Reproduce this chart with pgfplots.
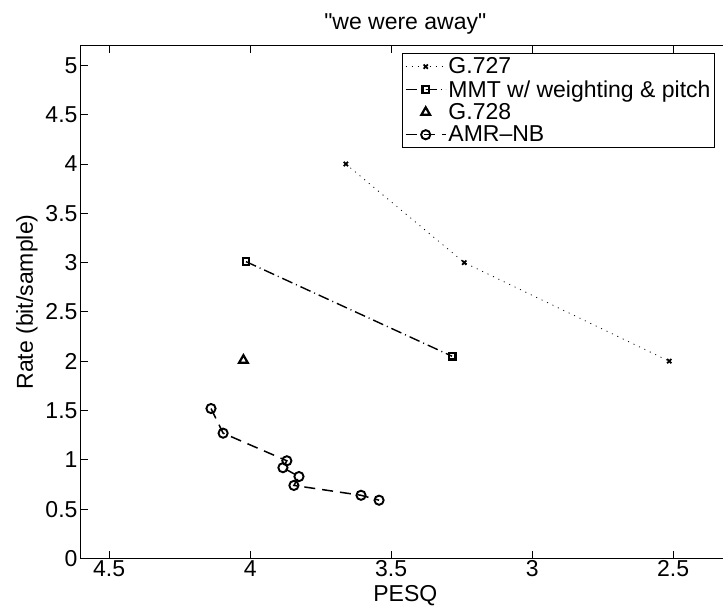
\documentclass[border=0pt]{standalone}
\usepackage{fontspec}
\setmainfont{Liberation Sans}
\newfontfamily\qfont{Liberation Sans}
\usepackage{pgfplots}
\pgfplotsset{compat=1.18}
\newcommand{\mfont}{\fontsize{23}{27}\selectfont}
\begin{document}
\begin{tikzpicture}
\begin{axis}[
    scale only axis,
    width=648.6pt, height=512.7pt,
    x dir=reverse,
    xmin=2.3, xmax=4.6, ymin=0, ymax=5.2,
    xtick={2.5,3,3.5,4,4.5},
    ytick={0,0.5,1,1.5,2,2.5,3,3.5,4,4.5,5},
    tick align=inside,
    major tick length=7pt,
    axis line style={line width=1pt},
    every tick/.style={black, line width=0.8pt},
    /pgf/number format/assume math mode=true,
    tick label style={font=\mfont},
    xticklabel style={yshift=1pt},
    label style={font=\mfont},
    title style={font=\mfont, yshift=2pt},
    title={{\qfont"we were away"}},
    xlabel={PESQ},
    ylabel={Rate (bit/sample)},
    xlabel style={yshift=-1pt},
    ylabel style={yshift=1pt},
    legend cell align=left,
    legend image code/.code={
        \draw[mark repeat=2,mark phase=2] plot coordinates {(0pt,0pt) (20pt,0pt) (40pt,0pt)};
    },
    legend style={at={(1,1)}, anchor=north east, xshift=-14.6pt, yshift=-7.6pt,
        font=\mfont, draw=black, line width=1pt, inner xsep=2pt, inner ysep=2pt,
        row sep=1pt},
]
\addplot[black, line width=0.8pt, dash pattern=on 1pt off 5pt, mark=x, mark size=3pt,
    mark options={solid, line width=1.8pt}]
    coordinates {(3.661,4.0) (3.241,3.0) (2.514,2.0)};
\addlegendentry{G.727}
\addplot[black, line width=1.4pt, dash pattern=on 11pt off 4pt on 1pt off 4pt,
    mark=square, mark size=3.3pt, mark options={solid, line width=2.2pt}]
    coordinates {(4.015,3.01) (3.284,2.05)};
\addlegendentry{MMT w/ weighting \& pitch}
\addplot[black, only marks, mark=triangle, mark size=5pt,
    mark options={solid, line width=2.2pt}]
    coordinates {(4.024,2.01)};
\addlegendentry{G.728}
\addplot[black, line width=1.5pt, dash pattern=on 11pt off 7pt, mark=o, mark size=4.6pt,
    mark options={solid, line width=1.9pt}]
    coordinates {(4.139,1.52) (4.096,1.27) (3.870,0.99) (3.884,0.92)
                 (3.827,0.83) (3.845,0.74) (3.607,0.64) (3.543,0.59)};
\addlegendentry{AMR--NB}
\coordinate (bl) at (rel axis cs:0,0);
\coordinate (tl) at (rel axis cs:0,1);
\end{axis}
\pgfresetboundingbox
\path[use as bounding box] ([xshift=-81pt,yshift=-51.7pt]bl) rectangle ([xshift=642pt,yshift=45.7pt]tl);
\end{tikzpicture}
\end{document}
